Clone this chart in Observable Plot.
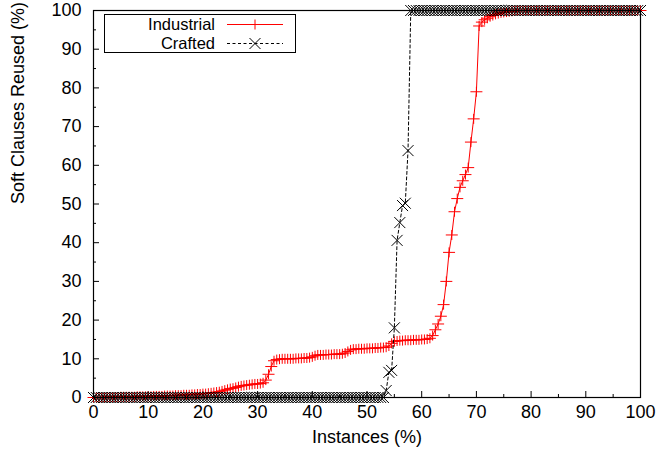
<!DOCTYPE html>
<html>
<head>
<meta charset="utf-8">
<script src="https://cdn.jsdelivr.net/npm/d3@7"></script>
<script src="https://cdn.jsdelivr.net/npm/@observablehq/plot@0.6"></script>
<style>
  html, body { margin: 0; padding: 0; background: #fff; }
  #chart { width: 657px; height: 460px; }
</style>
</head>
<body>
<div id="chart"></div>
<script>
// ---- data ----
const seriesNames = ["Industrial", "Crafted"];
const xTicks = [0, 10, 20, 30, 40, 50, 60, 70, 80, 90, 100];
const yTicks = [0, 10, 20, 30, 40, 50, 60, 70, 80, 90, 100];
const minorTicks = [5, 15, 25, 35, 45, 55, 65, 75, 85, 95];

// Soft clauses reused (%) per instance, sorted; instances evenly spread 0..100%
const industrial = [
  0, 0, 0, 0, 0, 0.1, 0.1, 0.1, 0.1, 0.1, 0.2, 0.2, 0.2, 0.2, 0.2, 0.2, 0.3, 0.3, 0.3, 0.3, 0.3,
  0.3, 0.4, 0.4, 0.4, 0.4, 0.5, 0.5, 0.5, 0.5, 0.6, 0.6, 0.6, 0.7, 0.7, 0.7, 0.8, 0.8, 0.9, 0.9, 1.0,
  1.0, 1.1, 1.2, 1.3, 1.4, 1.5, 1.7, 1.9, 2.1, 2.3,
  2.4, 2.6, 2.8, 3.0, 3.1, 3.2, 3.3, 3.4, 3.5, 3.5,
  3.6, 3.8, 4.5, 6.0, 8.0, 9.5, 9.8, 9.9, 10.0, 10.0,
  10.0, 10.0, 10.0, 10.1, 10.1, 10.1, 10.2, 10.2, 10.3, 10.5,
  10.8, 11.0, 11.0, 11.0, 11.1, 11.1, 11.1, 11.2, 11.2, 11.2,
  11.3, 11.5, 11.9, 12.3, 12.5, 12.5, 12.6, 12.6, 12.6, 12.7,
  12.7, 12.7, 12.8, 12.8, 12.9, 12.9, 13.0, 13.3, 14.0, 14.5,
  14.6, 14.7, 14.7, 14.8, 14.8, 14.8, 14.9, 14.9, 14.9, 15.0,
  15.0, 15.1, 15.3, 16.0, 17.5, 19.0, 21.0, 24.0, 30.0, 37.5,
  42.0, 48.0, 51.4, 54.3, 56.0, 57.6, 59.4, 66.0, 72.0, 79.0,
  96.0, 97.0, 97.6, 98.0, 98.4, 98.7, 99.0, 99.2, 99.4, 99.5,
  99.6, 99.7, 99.8, 99.9,
  100, 100, 100, 100, 100, 100, 100, 100, 100, 100, 100, 100, 100, 100, 100, 100, 100, 100, 100, 100,
  100, 100, 100, 100, 100, 100, 100, 100, 100, 100, 100, 100, 100, 100, 100, 100, 100, 100, 100, 100,
  100, 100, 100, 100, 100, 100
];

const crafted = [
  0, 0, 0, 0, 0, 0, 0, 0, 0, 0, 0, 0, 0, 0, 0, 0, 0, 0, 0, 0,
  0, 0, 0, 0, 0, 0, 0, 0, 0, 0, 0, 0, 0, 0, 0, 0, 0, 0, 0, 0,
  0, 0, 0, 0, 0, 0, 0, 0, 0, 0, 0, 0, 0, 0, 0, 0, 0, 0, 0, 0,
  0, 0, 0, 0, 0, 0, 0, 0, 0, 0, 0, 0, 0, 0, 0, 0, 0, 0, 0, 0,
  0, 0, 0, 0, 0, 0, 0, 0, 0, 0, 0, 0, 0, 0, 0, 0, 0, 0, 0, 0,
  0, 0, 0, 0, 0, 0, 0,
  1.8, 6.5, 7.0, 18.0, 40.6, 45.2, 49.6, 50.2, 63.8,
  100, 100, 100, 100, 100, 100, 100, 100, 100, 100, 100, 100, 100, 100, 100, 100, 100, 100, 100, 100,
  100, 100, 100, 100, 100, 100, 100, 100, 100, 100, 100, 100, 100, 100, 100, 100, 100, 100, 100, 100,
  100, 100, 100, 100, 100, 100, 100, 100, 100, 100, 100, 100, 100, 100, 100, 100, 100, 100, 100, 100,
  100, 100, 100, 100, 100, 100, 100, 100, 100, 100, 100, 100, 100, 100, 100, 100, 100, 100, 100, 100,
  100, 100, 100, 100, 100
];

// ---- build tables ----
const toRows = (vals, series) => vals.map((v, i) => ({ x: i * 100 / (vals.length - 1), y: v, series }));
const indRows = toRows(industrial, seriesNames[0]);
const craRows = toRows(crafted, seriesNames[1]);

const plusSym = { draw(ctx) { ctx.moveTo(-6, 0); ctx.lineTo(6, 0); ctx.moveTo(0, -5); ctx.lineTo(0, 5); } };
const timesSym = { draw(ctx) { ctx.moveTo(-5.5, -5.5); ctx.lineTo(5.5, 5.5); ctx.moveTo(-5.5, 5.5); ctx.lineTo(5.5, -5.5); } };

const W = 657, H = 460, mL = 93, mR = 17, mT = 10, mB = 63;
const plotW = W - mL - mR, plotH = H - mT - mB;
const FONT = "'Liberation Sans', Arial, Helvetica, sans-serif";

const chart = Plot.plot({
  width: W, height: H,
  marginLeft: mL, marginRight: mR, marginTop: mT, marginBottom: mB,
  style: { fontFamily: FONT, fontSize: "18px", background: "#fff", color: "#000", overflow: "visible" },
  x: { domain: [0, 100] },
  y: { domain: [0, 100] },
  marks: [
    // inward ticks
    Plot.tickX(xTicks, { x: d => d, insetTop: plotH - 6, stroke: "#000" }),
    Plot.tickX(minorTicks, { x: d => d, insetTop: plotH - 3, stroke: "#000" }),
    Plot.tickY(yTicks, { y: d => d, insetRight: plotW - 6, stroke: "#000" }),
    Plot.tickY(minorTicks, { y: d => d, insetRight: plotW - 3, stroke: "#000" }),
    Plot.axisX(xTicks, { tickSize: 0, tickPadding: 8, label: null, fontSize: 18, tickFormat: d => String(d) }),
    Plot.axisY(yTicks, { tickSize: 0, tickPadding: 12, label: null, fontSize: 18, tickFormat: d => String(d) }),
    Plot.text(["Instances (%)"], { frameAnchor: "bottom", dy: 45, fontSize: 18, fill: "#000" }),
    Plot.text(["Soft Clauses Reused (%)"], { frameAnchor: "left", dx: -75, rotate: -90, fontSize: 18, fill: "#000" }),
    // series
    Plot.line(indRows, { x: "x", y: "y", stroke: "#ff0000", strokeWidth: 1 }),
    Plot.dot(indRows, { x: "x", y: "y", symbol: plusSym, fill: "none", stroke: "#ff0000", strokeWidth: 1 }),
    Plot.line(craRows, { x: "x", y: "y", stroke: "#000", strokeWidth: 1, strokeDasharray: "3,2.5" }),
    Plot.dot(craRows, { x: "x", y: "y", symbol: timesSym, fill: "none", stroke: "#000", strokeWidth: 1 }),
    Plot.frame({ stroke: "#000", strokeWidth: 1.2 })
  ]
});

// ---- legend inside the plot (top-left) ----
const svg = d3.select(chart);
const lg = svg.append("g").attr("font-family", FONT).attr("font-size", 16.5);
lg.append("rect").attr("x", 104.5).attr("y", 14.5).attr("width", 191).attr("height", 38)
  .attr("fill", "#fff").attr("stroke", "#000").attr("stroke-width", 1);
const legendItems = [
  { name: seriesNames[0], y: 24.5, stroke: "#ff0000", dash: null, sym: "M-6,0H6M0,-5V5" },
  { name: seriesNames[1], y: 43.5, stroke: "#000", dash: "3,2.5", sym: "M-5.5,-5.5L5.5,5.5M-5.5,5.5L5.5,-5.5" }
];
for (const it of legendItems) {
  lg.append("text").attr("x", 215).attr("y", it.y).attr("dy", "0.35em").attr("text-anchor", "end")
    .attr("fill", "#000").text(it.name);
  lg.append("line").attr("x1", 227).attr("x2", 283).attr("y1", it.y).attr("y2", it.y)
    .attr("stroke", it.stroke).attr("stroke-width", 1).attr("stroke-dasharray", it.dash);
  lg.append("path").attr("d", it.sym).attr("transform", `translate(255,${it.y})`)
    .attr("fill", "none").attr("stroke", it.stroke).attr("stroke-width", 1);
}

document.getElementById("chart").appendChild(chart);
</script>
</body>
</html>
